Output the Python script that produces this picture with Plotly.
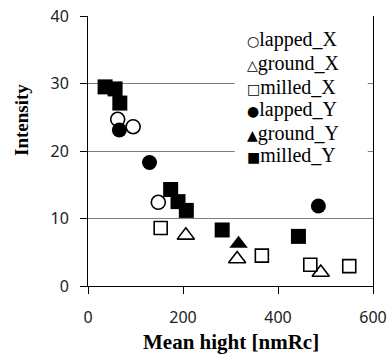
import plotly.graph_objects as go

# ---- data ----
lapped_X_x = [62.5, 95, 148]
lapped_X_y = [24.7, 23.6, 12.4]
ground_X_x = [206, 314, 490]
ground_X_y = [7.5, 4.0, 2.0]
milled_X_x = [153, 366, 468, 550]
milled_X_y = [8.6, 4.5, 3.15, 2.95]
lapped_Y_x = [66, 129.5, 485]
lapped_Y_y = [23.1, 18.3, 11.85]
ground_Y_x = [317]
ground_Y_y = [6.25]
milled_Y_x = [36, 57, 67, 174, 189.5, 207, 282.5, 443]
milled_Y_y = [29.5, 29.2, 27.1, 14.3, 12.5, 11.2, 8.3, 7.35]

series_names = ["lapped_X", "ground_X", "milled_X", "lapped_Y", "ground_Y", "milled_Y"]
legend_glyphs = ["○", "△", "□", "●", "▲", "■"]
x_ticks = [0, 200, 400, 600]
y_ticks = [0, 10, 20, 30, 40]
x_title = "Mean hight [nmRc]"
y_title = "Intensity"

series = [
    (lapped_X_x, lapped_X_y, "circle-open", 14),
    (ground_X_x, ground_X_y, "triangle-up-open", 15),
    (milled_X_x, milled_X_y, "square-open", 13),
    (lapped_Y_x, lapped_Y_y, "circle", 15),
    (ground_Y_x, ground_Y_y, "triangle-up", 16),
    (milled_Y_x, milled_Y_y, "square", 15),
]

fig = go.Figure()
for name, (xs, ys, sym, size) in zip(series_names, series):
    is_open = sym.endswith("open")
    fig.add_trace(go.Scatter(
        x=xs, y=ys, mode="markers", name=name, showlegend=False,
        marker=dict(symbol=sym, size=size, color="black",
                    line=dict(color="black", width=1.6 if is_open else 0)),
    ))

# legend box (white, covers gridlines)
fig.add_shape(type="rect", xref="x", yref="y", x0=309, x1=589, y0=17.6, y1=38.6,
              fillcolor="white", line=dict(width=0), layer="between")
row_y = [36.45, 33.0, 29.5, 26.1, 22.65, 19.35]
for g, name, yy in zip(legend_glyphs, series_names, row_y):
    fig.add_annotation(x=330, y=yy, xref="x", yref="y", xanchor="left", yanchor="middle",
                       text=f"<span style='font-family:DejaVu Sans;font-size:14px'>{g}</span>{name}",
                       showarrow=False,
                       font=dict(family="Liberation Serif", size=20, color="black"))

fig.add_annotation(x=-0.236, y=0.614, xref="paper", yref="paper", text=f"<b>{y_title}</b>",
                   textangle=-90, showarrow=False, xanchor="center", yanchor="middle",
                   font=dict(family="Liberation Serif", size=19, color="black"))
fig.add_annotation(x=0.5, y=-0.207, xref="paper", yref="paper", text=f"<b>{x_title}</b>",
                   showarrow=False, xanchor="center", yanchor="middle",
                   font=dict(family="Liberation Serif", size=21, color="black"))

fig.update_xaxes(range=[0, 600], tickvals=x_ticks, ticks="outside", ticklen=7, tickcolor="black",
                 showline=True, linecolor="black", linewidth=1, showgrid=False, zeroline=False,
                 ticklabelstandoff=10, automargin=False,
                 tickfont=dict(family="Noto Sans", size=16, color="#222"))
fig.update_yaxes(range=[0, 40], tickvals=y_ticks, ticks="outside", ticklen=7, tickcolor="black",
                 showline=True, linecolor="black", linewidth=1, mirror=True,
                 showgrid=True, gridcolor="#7f7f7f", gridwidth=1, zeroline=False,
                 ticklabelstandoff=8, automargin=False,
                 tickfont=dict(family="Noto Sans", size=16, color="#222"))

fig.update_layout(width=391, height=355, margin=dict(l=88, r=18, t=16, b=69),
                  plot_bgcolor="white", paper_bgcolor="white", showlegend=False)
fig.write_html("out.html", config={"displayModeBar": False},
               post_script="document.body.style.margin='0';")
